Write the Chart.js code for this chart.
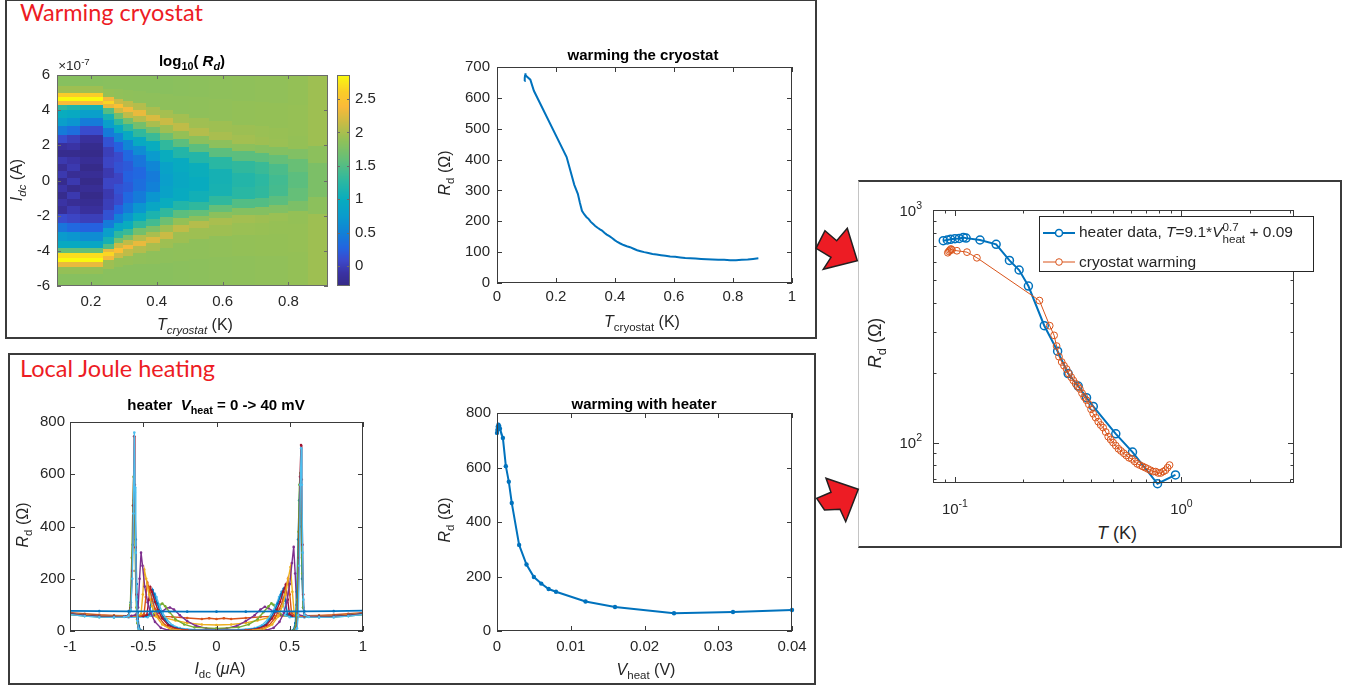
<!DOCTYPE html>
<html>
<head>
<meta charset="utf-8">
<title>Warming cryostat vs local Joule heating</title>
<script src="https://cdn.jsdelivr.net/npm/chart.js@4.4.1/dist/chart.umd.min.js"></script>
<style>
  body { margin: 0; width: 1354px; height: 689px; position: relative; overflow: hidden; background: #fff;
         font-family: "Liberation Sans", Arial, sans-serif; color: #262626; }
  canvas { position: absolute; z-index: 1; }
  .frame { position: absolute; box-sizing: border-box; border: 2px solid #3b3b3b; z-index: 0; }
  .lbl { position: absolute; z-index: 2; white-space: nowrap; line-height: 1; transform: translate(-50%, -50%); font-size: 16px; }
  .rot { transform: translate(-50%, -50%) rotate(-90deg); }
  .ttl { font-weight: bold; font-size: 15px; color: #000; }
  .red { position: absolute; z-index: 2; font-family: Lato, "Open Sans", sans-serif; font-size: 23.5px; color: #ED1C24; line-height: 1; white-space: nowrap; }
  sub, sup { font-size: 0.72em; line-height: 0; position: relative; vertical-align: baseline; }
  sub { top: 0.38em; }
  sup { top: -0.5em; }
  #legendE { position: absolute; z-index: 3; left: 1039px; top: 216px; width: 275px; height: 56px; background: #fff;
             border: 1px solid #262626; box-sizing: border-box; }
  .legtxt { position: absolute; left: 39px; transform: translateY(-50%); font-size: 15.5px; white-space: nowrap; line-height: 1; }
  .ss { display: inline-block; vertical-align: middle; font-size: 0.75em; line-height: 1.05; }
  .ss span { display: block; }
</style>
</head>
<body>

<!-- panel frames -->
<div class="frame" style="left:5px; top:-1px; width:812px; height:340px;"></div>
<div class="frame" style="left:8px; top:353px; width:808px; height:332px;"></div>
<div class="frame" style="left:858px; top:180px; width:484px; height:368px; border-left:1px solid #c4c4c4;"></div>

<div class="red" style="left:20px; top:1px;">Warming cryostat</div>
<div class="red" style="left:20px; top:357px;">Local Joule heating</div>

<!-- panel A text -->
<div class="lbl ttl" style="left:192px; top:60px;">log<sub>10</sub>( <i>R<sub>d</sub></i>)</div>
<div class="lbl" style="left:74px; top:66px; font-size:13.5px;">&times;10<sup>-7</sup></div>
<div class="lbl rot" style="left:17px; top:180px;"><i>I</i><sub><i>dc</i></sub> (A)</div>
<div class="lbl" style="left:195px; top:325px;"><i>T</i><sub><i>cryostat</i></sub> (K)</div>

<!-- panel B text -->
<div class="lbl ttl" style="left:643px; top:54px;">warming the cryostat</div>
<div class="lbl rot" style="left:445px; top:173px;"><i>R</i><sub>d</sub> (&Omega;)</div>
<div class="lbl" style="left:642px; top:322px;"><i>T</i><sub>cryostat</sub> (K)</div>

<!-- panel C text -->
<div class="lbl ttl" style="left:216px; top:404px;">heater&nbsp;&nbsp;<i>V</i><sub>heat</sub> = 0 -&gt; 40 mV</div>
<div class="lbl rot" style="left:23px; top:525px;"><i>R</i><sub>d</sub> (&Omega;)</div>
<div class="lbl" style="left:220px; top:669px;"><i>I</i><sub>dc</sub> (<i>&mu;</i>A)</div>

<!-- panel D text -->
<div class="lbl ttl" style="left:644px; top:403px;">warming with heater</div>
<div class="lbl rot" style="left:445px; top:520px;"><i>R</i><sub>d</sub> (&Omega;)</div>
<div class="lbl" style="left:646px; top:670px;"><i>V</i><sub>heat</sub> (V)</div>

<!-- panel E text -->
<div class="lbl rot" style="left:875px; top:343px; font-size:18px;"><i>R</i><sub>d</sub> (&Omega;)</div>
<div class="lbl" style="left:1117px; top:533px; font-size:18px;"><i>T</i> (K)</div>

<div id="legendE">
  <svg width="40" height="56" style="position:absolute; left:0; top:0;">
    <line x1="3" y1="16" x2="35" y2="16" stroke="#0072BD" stroke-width="2"/>
    <circle cx="19" cy="16" r="3.5" fill="#fff" stroke="#0072BD" stroke-width="1.5"/>
    <line x1="3" y1="45" x2="35" y2="45" stroke="#D95319" stroke-width="1"/>
    <circle cx="19" cy="45" r="3.3" fill="#fff" stroke="#D95319" stroke-width="1"/>
  </svg>
  <div class="legtxt" style="top:16px;">heater data, <i>T</i>=9.1*<i>V</i><span class="ss"><span>0.7</span><span>heat</span></span> + 0.09</div>
  <div class="legtxt" style="top:45px;">cryostat warming</div>
</div>

<svg width="1354" height="689" style="position:absolute; left:0; top:0; z-index:2; pointer-events:none;">
  <polygon points="825,230.7 836.7,240.7 847.3,228.3 857.3,260.7 823.3,269.3 831,257.3 816,248.3"
           fill="#ED1C24" stroke="#231F20" stroke-width="1.5"/>
  <polygon points="826,478.3 858.3,489.3 845.7,521.7 840,509.3 824.5,510 816.7,498.3 831,492.3"
           fill="#ED1C24" stroke="#231F20" stroke-width="1.5"/>
</svg>

<script>
// ========================================
// Panel A - log10(Rd) map (I in units of 1e-7 A)
// each column: [I, log10 Rd] samples, top to bottom
// ========================================
const mapTEdges = [0.097, 0.13, 0.167, 0.238, 0.273, 0.30, 0.33, 0.37, 0.41, 0.45, 0.50, 0.56, 0.63, 0.70, 0.742, 0.80, 0.86, 0.92];
const mapCol01 = [[5.6,1.82],[5.05,1.95],[4.8,2.6],[4.6,2.85],[4.4,2.4],[4.15,1.3],[3.8,1.0],[3.3,0.8],[2.8,0.45],[2.3,0.1],[1.9,-0.15],[1.5,-0.25],[1.1,-0.05],[0.7,-0.2],[0.3,-0.05],[-0.1,-0.25],[-0.5,-0.1],[-0.9,-0.25],[-1.3,-0.1],[-1.7,-0.2],[-2.2,0.1],[-2.7,0.4],[-3.2,0.75],[-3.7,0.95],[-4.05,1.6],[-4.3,2.7],[-4.55,2.85],[-4.8,2.3],[-5.1,1.9],[-5.6,1.82]];
const mapCol02 = [[5.6,1.82],[5.05,1.95],[4.8,2.6],[4.6,2.85],[4.4,2.4],[4.15,1.2],[3.8,0.95],[3.3,0.7],[2.8,0.35],[2.3,0.0],[1.9,-0.1],[1.5,-0.25],[1.1,-0.1],[0.7,-0.05],[0.3,-0.2],[-0.1,-0.05],[-0.5,-0.25],[-0.9,-0.05],[-1.3,-0.2],[-1.7,-0.05],[-2.2,0.05],[-2.7,0.3],[-3.2,0.7],[-3.7,0.95],[-4.05,1.6],[-4.3,2.7],[-4.55,2.85],[-4.8,2.3],[-5.1,1.9],[-5.6,1.82]];
const mapCol03 = [[5.6,1.82],[5.05,1.95],[4.8,2.6],[4.6,2.85],[4.4,2.4],[4.15,1.1],[3.8,0.8],[3.3,0.45],[2.8,0.1],[2.3,-0.15],[1.9,-0.25],[1.5,-0.28],[1.1,-0.2],[0.7,-0.28],[0.3,-0.2],[-0.1,-0.28],[-0.5,-0.2],[-0.9,-0.28],[-1.3,-0.22],[-1.7,-0.15],[-2.2,0.0],[-2.7,0.25],[-3.2,0.6],[-3.7,0.9],[-4.05,1.6],[-4.3,2.7],[-4.55,2.85],[-4.8,2.3],[-5.1,1.9],[-5.6,1.82]];
const mapCol04 = [[5.5,1.83],[4.85,1.9],[4.6,2.35],[4.4,2.65],[4.2,2.3],[3.95,1.5],[3.6,1.1],[3.2,0.8],[2.7,0.45],[2.2,0.15],[1.6,0.0],[1.0,0.05],[0.4,-0.05],[-0.2,0.05],[-0.8,-0.05],[-1.4,0.0],[-2.0,0.15],[-2.5,0.45],[-3.0,0.8],[-3.45,1.1],[-3.8,1.5],[-4.0,2.3],[-4.2,2.65],[-4.4,2.35],[-4.7,1.95],[-5.4,1.83]];
const mapCol05 = [[5.5,1.83],[4.8,1.88],[4.45,2.15],[4.2,2.45],[3.95,2.15],[3.65,1.7],[3.3,1.3],[2.9,0.95],[2.4,0.55],[1.9,0.25],[1.3,0.1],[0.7,0.15],[0.1,0.05],[-0.5,0.15],[-1.1,0.1],[-1.7,0.25],[-2.2,0.5],[-2.7,0.9],[-3.1,1.3],[-3.45,1.7],[-3.75,2.15],[-4.0,2.45],[-4.25,2.15],[-4.6,1.9],[-5.3,1.83]];
const mapCol06 = [[5.5,1.83],[4.7,1.87],[4.3,2.1],[4.0,2.35],[3.7,2.1],[3.35,1.7],[3.0,1.3],[2.55,0.95],[2.0,0.55],[1.4,0.3],[0.8,0.2],[0.2,0.25],[-0.4,0.2],[-1.0,0.3],[-1.6,0.45],[-2.1,0.7],[-2.6,1.0],[-3.0,1.35],[-3.3,1.75],[-3.55,2.1],[-3.8,2.35],[-4.1,2.1],[-4.5,1.9],[-5.2,1.83]];
const mapCol07 = [[5.5,1.83],[4.6,1.86],[4.15,2.05],[3.8,2.3],[3.45,2.05],[3.1,1.7],[2.7,1.3],[2.2,0.95],[1.7,0.6],[1.1,0.4],[0.4,0.3],[-0.3,0.35],[-1.0,0.45],[-1.6,0.7],[-2.1,1.0],[-2.55,1.3],[-2.95,1.7],[-3.3,2.05],[-3.6,2.3],[-3.95,2.05],[-4.4,1.88],[-5.2,1.83]];
const mapCol08 = [[5.5,1.83],[4.4,1.86],[3.9,2.0],[3.55,2.22],[3.2,2.0],[2.85,1.7],[2.45,1.35],[1.95,1.0],[1.4,0.75],[0.8,0.55],[0.2,0.45],[-0.4,0.5],[-1.0,0.7],[-1.5,0.9],[-2.0,1.15],[-2.45,1.4],[-2.8,1.75],[-3.1,2.0],[-3.4,2.22],[-3.75,2.0],[-4.3,1.87],[-5.2,1.83]];
const mapCol09 = [[5.5,1.83],[4.3,1.86],[3.7,1.98],[3.3,2.15],[2.9,1.95],[2.5,1.65],[2.0,1.3],[1.4,1.0],[0.7,0.85],[0,0.8],[-0.7,0.85],[-1.3,1.0],[-1.85,1.3],[-2.35,1.65],[-2.75,1.95],[-3.15,2.15],[-3.55,1.95],[-4.2,1.86],[-5.2,1.83]];
const mapCol10 = [[5.5,1.84],[4.1,1.86],[3.45,1.97],[3.0,2.1],[2.55,1.9],[2.1,1.55],[1.6,1.2],[0.9,0.97],[0,0.92],[-0.9,0.97],[-1.5,1.2],[-1.95,1.55],[-2.35,1.9],[-2.75,2.1],[-3.2,1.95],[-4.0,1.87],[-5.2,1.84]];
const mapCol11 = [[5.5,1.85],[3.9,1.87],[3.2,1.96],[2.75,2.05],[2.3,1.85],[1.85,1.55],[1.3,1.2],[0.6,1.02],[-0.3,0.98],[-1.0,1.07],[-1.5,1.3],[-1.9,1.6],[-2.2,1.85],[-2.5,2.05],[-2.95,1.95],[-3.8,1.87],[-5.2,1.85]];
const mapCol12 = [[5.5,1.86],[3.7,1.88],[3.0,1.95],[2.5,2.0],[2.05,1.85],[1.6,1.55],[1.0,1.25],[0.2,1.1],[-0.6,1.12],[-1.2,1.3],[-1.65,1.6],[-2.0,1.85],[-2.3,2.0],[-2.8,1.95],[-3.6,1.88],[-5.2,1.86]];
const mapCol13 = [[5.5,1.87],[3.5,1.89],[2.8,1.94],[2.3,1.97],[1.85,1.85],[1.4,1.55],[0.8,1.3],[0,1.2],[-0.8,1.25],[-1.35,1.5],[-1.8,1.8],[-2.2,1.97],[-2.7,1.93],[-3.5,1.89],[-5.2,1.87]];
const mapCol14 = [[5.5,1.88],[3.4,1.9],[2.7,1.93],[2.2,1.95],[1.75,1.82],[1.3,1.55],[0.7,1.35],[0,1.27],[-0.7,1.3],[-1.3,1.5],[-1.75,1.8],[-2.2,1.95],[-2.7,1.92],[-3.5,1.9],[-5.2,1.88]];
const mapCol15 = [[5.5,1.88],[3.3,1.9],[2.6,1.92],[2.1,1.93],[1.65,1.8],[1.2,1.6],[0.6,1.45],[0,1.4],[-0.6,1.42],[-1.2,1.55],[-1.65,1.78],[-2.1,1.93],[-2.6,1.91],[-3.5,1.9],[-5.2,1.88]];
const mapCol16 = [[5.5,1.9],[3.0,1.91],[2.0,1.9],[1.5,1.78],[0.9,1.62],[0,1.55],[-0.9,1.6],[-1.5,1.75],[-2.0,1.9],[-3.0,1.91],[-5.2,1.9]];
const mapCol17 = [[5.5,1.95],[2.5,1.95],[1.4,1.85],[0.5,1.75],[-0.5,1.75],[-1.4,1.85],[-2.5,1.95],[-5.2,1.95]];
const mapColumns = [mapCol01, mapCol02, mapCol03, mapCol04, mapCol05, mapCol06, mapCol07, mapCol08, mapCol09,
                    mapCol10, mapCol11, mapCol12, mapCol13, mapCol14, mapCol15, mapCol16, mapCol17];
const mapTicksT = [0.2, 0.4, 0.6, 0.8];
const mapTicksI = [-6, -4, -2, 0, 2, 4, 6];
const cbarMin = -0.3, cbarMax = 2.86;
const cbarTicks = [0, 0.5, 1, 1.5, 2, 2.5];

// ========================================
// Panel B (and orange curve of panel E) - cryostat warming
// ========================================
const cryoT = [0.093, 0.094, 0.095, 0.096, 0.097, 0.102, 0.113, 0.125, 0.236, 0.262, 0.274, 0.281, 0.288, 0.296, 0.303, 0.311, 0.318, 0.326, 0.333, 0.341, 0.349, 0.356, 0.364, 0.372, 0.381, 0.390, 0.399, 0.408, 0.418, 0.429, 0.440, 0.451, 0.463, 0.475, 0.487, 0.499, 0.513, 0.527, 0.541, 0.556, 0.571, 0.587, 0.604, 0.621, 0.638, 0.655, 0.673, 0.692, 0.711, 0.730, 0.750, 0.770, 0.790, 0.810, 0.830, 0.850, 0.868, 0.886];
const cryoR = [655, 664, 672, 680, 674, 668, 659, 623, 408, 318, 289, 260, 234, 222, 214, 207, 198, 191, 185, 179, 174, 170, 163, 157, 152, 146, 139, 133, 128, 123, 119, 116, 111, 106, 103, 100, 97, 94, 92, 90, 88, 86, 85, 83, 81, 80, 79, 78, 77, 76, 75, 75, 74, 74, 75, 76, 78, 80];
const ticksB_T = [0, 0.2, 0.4, 0.6, 0.8, 1];
const ticksB_R = [0, 100, 200, 300, 400, 500, 600, 700];

// ========================================
// Panel C - Rd(Idc) sweeps for Vheat = 0 -> 40 mV  ([I (uA), Rd])
// ========================================
const sweep01 = [[-1,63],[-0.9,57],[-0.8,53],[-0.7,52],[-0.63,54],[-0.6,58],[-0.585,80],[-0.575,200],[-0.567,450],[-0.561,760],[-0.556,550],[-0.551,300],[-0.546,120],[-0.54,40],[-0.533,10],[-0.525,2],[-0.5,0],[-0.3,0],[0,0],[0.3,0],[0.5,0],[0.54,2],[0.55,10],[0.558,60],[0.565,250],[0.572,560],[0.578,700],[0.583,560],[0.588,300],[0.593,120],[0.6,62],[0.63,54],[0.7,52],[0.8,53],[0.9,57],[1,63]];
const sweep02 = [[-1,65],[-0.9,59],[-0.8,55],[-0.7,54],[-0.63,56],[-0.6,60],[-0.585,90],[-0.575,230],[-0.568,480],[-0.562,745],[-0.557,560],[-0.552,320],[-0.547,140],[-0.541,45],[-0.534,12],[-0.525,2],[-0.5,0],[0,0],[0.5,0],[0.538,2],[0.548,12],[0.556,70],[0.563,280],[0.57,590],[0.577,712],[0.582,580],[0.587,330],[0.592,140],[0.598,65],[0.63,56],[0.7,54],[0.8,55],[0.9,59],[1,65]];
const sweep03 = [[-1,64],[-0.9,58],[-0.8,54],[-0.7,53],[-0.63,55],[-0.6,60],[-0.588,100],[-0.578,280],[-0.571,480],[-0.566,590],[-0.559,430],[-0.553,230],[-0.547,90],[-0.54,30],[-0.532,8],[-0.52,1],[-0.5,0],[0,0],[0.5,0],[0.53,3],[0.542,20],[0.552,120],[0.56,380],[0.566,560],[0.572,605],[0.578,450],[0.585,220],[0.592,90],[0.6,60],[0.63,55],[0.7,53],[0.8,54],[0.9,58],[1,64]];
const sweep04 = [[-1,66],[-0.9,60],[-0.8,56],[-0.7,55],[-0.63,56],[-0.6,60],[-0.585,110],[-0.572,330],[-0.564,500],[-0.558,530],[-0.551,350],[-0.545,180],[-0.538,70],[-0.53,20],[-0.52,4],[-0.5,0],[0,0],[0.5,0],[0.525,4],[0.538,30],[0.548,150],[0.557,350],[0.564,500],[0.57,560],[0.577,400],[0.584,200],[0.591,90],[0.6,62],[0.63,56],[0.7,55],[0.8,56],[0.9,60],[1,66]];
const sweep05 = [[-1,66],[-0.9,60],[-0.8,56],[-0.7,55],[-0.62,56],[-0.58,58],[-0.55,62],[-0.535,90],[-0.525,200],[-0.515,300],[-0.505,250],[-0.49,170],[-0.47,110],[-0.45,70],[-0.42,35],[-0.38,12],[-0.33,3],[-0.25,0],[0,0],[0.25,0],[0.34,3],[0.39,12],[0.43,35],[0.46,70],[0.48,110],[0.5,180],[0.515,260],[0.527,322],[0.537,220],[0.547,100],[0.56,62],[0.6,57],[0.7,55],[0.8,56],[0.9,60],[1,66]];
const sweep06 = [[-1,67],[-0.9,61],[-0.8,57],[-0.7,56],[-0.6,57],[-0.54,58],[-0.515,65],[-0.503,140],[-0.493,235],[-0.48,200],[-0.46,140],[-0.44,95],[-0.41,55],[-0.37,25],[-0.32,8],[-0.25,2],[0,0],[0.25,2],[0.33,8],[0.38,25],[0.42,55],[0.45,95],[0.47,140],[0.49,200],[0.505,245],[0.518,150],[0.53,70],[0.55,58],[0.6,57],[0.7,56],[0.8,57],[0.9,61],[1,67]];
const sweep07 = [[-1,68],[-0.9,62],[-0.8,58],[-0.7,57],[-0.6,57],[-0.52,58],[-0.495,64],[-0.482,130],[-0.472,185],[-0.46,165],[-0.44,120],[-0.42,85],[-0.39,50],[-0.35,22],[-0.3,8],[-0.2,2],[0,1],[0.2,2],[0.31,8],[0.36,22],[0.4,50],[0.43,85],[0.455,120],[0.475,165],[0.488,200],[0.5,140],[0.512,70],[0.53,59],[0.6,57],[0.7,57],[0.8,58],[0.9,62],[1,68]];
const sweep08 = [[-1,67],[-0.9,61],[-0.8,57],[-0.7,56],[-0.6,56],[-0.5,57],[-0.475,62],[-0.462,120],[-0.452,168],[-0.44,150],[-0.42,112],[-0.4,80],[-0.37,48],[-0.33,22],[-0.28,9],[-0.2,3],[0,2],[0.2,3],[0.29,9],[0.34,22],[0.38,48],[0.41,80],[0.435,112],[0.455,150],[0.473,178],[0.486,120],[0.498,65],[0.52,58],[0.6,56],[0.7,56],[0.8,57],[0.9,61],[1,67]];
const sweep09 = [[-1,68],[-0.9,62],[-0.8,58],[-0.7,57],[-0.6,57],[-0.48,58],[-0.458,64],[-0.446,115],[-0.436,157],[-0.425,140],[-0.405,105],[-0.385,75],[-0.355,45],[-0.32,22],[-0.27,10],[-0.2,4],[0,3],[0.2,4],[0.28,10],[0.33,22],[0.365,45],[0.395,75],[0.418,105],[0.44,140],[0.458,162],[0.471,115],[0.484,64],[0.51,58],[0.6,57],[0.7,57],[0.8,58],[0.9,62],[1,68]];
const sweep10 = [[-1,63],[-0.9,57],[-0.8,53],[-0.7,52],[-0.6,52],[-0.47,53],[-0.442,60],[-0.43,105],[-0.42,142],[-0.41,130],[-0.39,98],[-0.37,72],[-0.34,44],[-0.3,22],[-0.25,11],[-0.15,5],[0,4],[0.15,5],[0.26,11],[0.31,22],[0.35,44],[0.38,72],[0.405,98],[0.427,130],[0.443,150],[0.456,105],[0.47,60],[0.5,53],[0.6,52],[0.7,52],[0.8,53],[0.9,57],[1,63]];
const sweep11 = [[-1,64],[-0.9,59],[-0.8,56],[-0.7,55],[-0.6,55],[-0.5,56],[-0.44,60],[-0.41,78],[-0.385,100],[-0.37,105],[-0.35,95],[-0.32,72],[-0.28,45],[-0.22,25],[-0.15,14],[0,10],[0.15,14],[0.22,25],[0.28,45],[0.32,72],[0.355,95],[0.375,106],[0.39,100],[0.415,78],[0.45,60],[0.5,56],[0.6,55],[0.7,55],[0.8,56],[0.9,59],[1,64]];
const sweep12 = [[-1,65],[-0.9,60],[-0.8,57],[-0.7,56],[-0.6,56],[-0.5,57],[-0.42,62],[-0.37,75],[-0.34,87],[-0.318,90],[-0.29,82],[-0.25,60],[-0.2,38],[-0.14,20],[-0.07,10],[0,8],[0.07,10],[0.14,20],[0.2,38],[0.26,60],[0.3,82],[0.33,93],[0.355,87],[0.39,75],[0.44,62],[0.5,57],[0.6,56],[0.7,56],[0.8,57],[0.9,60],[1,65]];
const sweep13 = [[-1,62],[-0.9,58],[-0.8,56],[-0.7,57],[-0.6,58],[-0.5,60],[-0.42,58],[-0.35,50],[-0.28,40],[-0.2,31],[-0.1,25],[0,23],[0.1,25],[0.2,31],[0.28,40],[0.35,50],[0.42,58],[0.5,60],[0.6,58],[0.7,57],[0.8,56],[0.9,58],[1,62]];
const sweep14 = [[-1,70],[-0.9,66],[-0.8,62],[-0.7,60],[-0.6,59],[-0.5,58],[-0.4,57],[-0.3,54],[-0.2,50],[-0.1,46],[-0.05,49],[0,46],[0.05,49],[0.1,46],[0.2,50],[0.3,54],[0.4,57],[0.5,58],[0.6,59],[0.7,60],[0.8,62],[0.9,66],[1,70]];
const sweep15 = [[-1,77],[-0.8,76],[-0.6,75],[-0.4,75],[-0.2,74],[0,74],[0.2,74],[0.4,75],[0.6,75],[0.8,76],[1,78]];
const sweepsC = [sweep15, sweep01, sweep02, sweep03, sweep04, sweep05, sweep06, sweep07, sweep08, sweep09, sweep10, sweep11, sweep12, sweep13, sweep14];
const sweepColors = ['#0072BD', '#4DBEEE', '#A2142F', '#77AC30', '#0072BD', '#7E2F8E', '#EDB120', '#D95319',
                     '#A2142F', '#0072BD', '#4DBEEE', '#77AC30', '#7E2F8E', '#EDB120', '#D95319'];
const ticksC_I = [-1, -0.5, 0, 0.5, 1];
const ticksC_R = [0, 200, 400, 600, 800];

// ========================================
// Panel D - warming with heater
// ========================================
const heatV = [0, 0.00005, 0.0001, 0.0002, 0.0003, 0.0004, 0.0008, 0.0012, 0.0016, 0.002, 0.003, 0.004, 0.005, 0.006, 0.007, 0.008, 0.012, 0.016, 0.024, 0.032, 0.04];
const heatRd = [727, 738, 750, 757, 752, 742, 708, 605, 548, 470, 316, 244, 198, 174, 154, 144, 108, 88, 65, 70, 77];
const ticksD_V = [0, 0.01, 0.02, 0.03, 0.04];
const ticksD_R = [0, 200, 400, 600, 800];

// ========================================
// Panel E - log-log comparison (heater data mapped to T)
// ========================================
const heatT = [0.0888, 0.0925, 0.0957, 0.1, 0.1045, 0.1089, 0.112, 0.129, 0.152, 0.174, 0.192, 0.211, 0.248, 0.284, 0.316, 0.350, 0.381, 0.408, 0.513, 0.608, 0.784, 0.941];
const heatRlog = [738, 743, 748, 753, 755, 762, 757, 743, 712, 607, 552, 471, 318, 247, 198, 175, 156, 143, 109, 91, 66.5, 72.6];
const ticksE_T = [0.08, 0.09, 0.1, 0.2, 0.3, 0.4, 0.5, 0.6, 0.7, 0.8, 0.9, 1, 2, 3];
const ticksE_R = [70, 80, 90, 100, 200, 300, 400, 500, 600, 700, 800, 900, 1000];
const labelsE_T = [0.1, 1];
const labelsE_R = [100, 1000];

// ========================================
// Helpers
// ========================================
const tickFont = { family: 'Liberation Sans', size: 15 };
const axisColor = '#262626';

const parulaStops = [
  [0.00, 53, 42, 135], [0.06, 58, 50, 162], [0.12, 60, 72, 202], [0.18, 35, 100, 225], [0.25, 18, 128, 215],
  [0.33, 10, 155, 205], [0.41, 8, 172, 190], [0.50, 45, 184, 160], [0.60, 100, 191, 120],
  [0.70, 150, 192, 85], [0.78, 205, 187, 68], [0.85, 250, 186, 57], [0.92, 250, 205, 40],
  [1.00, 249, 251, 14]
];

function parula(v) {
  let f = (v - cbarMin) / (cbarMax - cbarMin);
  f = Math.max(0, Math.min(1, f));
  for (let i = 1; i < parulaStops.length; i++) {
    const a = parulaStops[i - 1], b = parulaStops[i];
    if (f <= b[0]) {
      const t = (f - a[0]) / (b[0] - a[0]);
      const c = [1, 2, 3].map(k => Math.round(a[k] + (b[k] - a[k]) * t));
      return `rgb(${c[0]},${c[1]},${c[2]})`;
    }
  }
  return 'rgb(249,251,14)';
}

const pairs = arr => arr.map(([x, y]) => ({ x, y }));
const zip = (xs, ys) => xs.map((x, i) => ({ x, y: ys[i] }));

function axis(type, min, max, ticks, size, pad, extra) {
  return Object.assign({
    type, min, max,
    afterBuildTicks: s => { s.ticks = ticks.map(v => ({ value: v })); },
    afterFit: s => { if (s.isHorizontal()) s.height = size; else s.width = size; },
    grid: { display: false, drawTicks: false },
    border: { display: false },
    ticks: { font: tickFont, color: axisColor, padding: pad, maxRotation: 0, autoSkip: false, callback: v => String(v) }
  }, extra || {});
}

function options(padding, scales, plugins) {
  return {
    responsive: false, animation: false, devicePixelRatio: 1, events: [],
    layout: { padding },
    scales,
    plugins: Object.assign({ legend: { display: false }, tooltip: { enabled: false } }, plugins || {})
  };
}

// area = plot rectangle on the page [x0, y0, x1, y1]; m = margins around it
function makeChart(area, m, config) {
  const cv = document.createElement('canvas');
  cv.width = area[2] - area[0] + m.l + m.r;
  cv.height = area[3] - area[1] + m.t + m.b;
  cv.style.left = (area[0] - m.l) + 'px';
  cv.style.top = (area[1] - m.t) + 'px';
  document.body.appendChild(cv);
  return new Chart(cv, config);
}

// MATLAB-style box with inward ticks on all four sides
const axesBox = {
  id: 'axesBox',
  afterDatasetsDraw(chart, args, opts) {
    const { ctx, chartArea: a } = chart;
    const len = opts.len || 5, minor = opts.minorLen || 3;
    ctx.save();
    ctx.strokeStyle = opts.color || '#3a3a3a';
    ctx.lineWidth = 1;
    ctx.strokeRect(a.left + 0.5, a.top + 0.5, a.width - 1, a.height - 1);
    ctx.beginPath();
    Object.values(chart.scales).forEach(s => {
      if (s.options.display === false) return;
      const log = s.type === 'logarithmic';
      s.ticks.forEach(t => {
        const major = !log || Math.abs(Math.log10(t.value) - Math.round(Math.log10(t.value))) < 1e-9;
        const l = major ? len : minor;
        const p = Math.round(s.getPixelForValue(t.value)) + 0.5;
        if (s.isHorizontal()) {
          ctx.moveTo(p, a.bottom); ctx.lineTo(p, a.bottom - l);
          ctx.moveTo(p, a.top); ctx.lineTo(p, a.top + l);
        } else {
          ctx.moveTo(a.left, p); ctx.lineTo(a.left + l, p);
          ctx.moveTo(a.right, p); ctx.lineTo(a.right - l, p);
        }
      });
    });
    ctx.stroke();
    ctx.restore();
  }
};
Chart.register(axesBox);

// colour map cells, placed through the chart scales
const heatmapCells = {
  id: 'heatmapCells',
  beforeDatasetsDraw(chart) {
    const { ctx, chartArea: a, scales: { x, y } } = chart;
    ctx.save();
    ctx.beginPath();
    ctx.rect(a.left, a.top, a.width, a.height);
    ctx.clip();
    mapColumns.forEach((col, c) => {
      const x0 = Math.floor(x.getPixelForValue(mapTEdges[c]));
      const x1 = Math.ceil(x.getPixelForValue(mapTEdges[c + 1]));
      col.forEach((s, i) => {
        const hi = i === 0 ? 6 : (col[i - 1][0] + s[0]) / 2;
        const lo = i === col.length - 1 ? -6 : (s[0] + col[i + 1][0]) / 2;
        const y0 = Math.floor(y.getPixelForValue(hi));
        const y1 = Math.ceil(y.getPixelForValue(lo));
        ctx.fillStyle = parula(s[1]);
        ctx.fillRect(x0, y0, x1 - x0 + 1, y1 - y0 + 1);
      });
    });
    ctx.restore();
  }
};

const colorbarFill = {
  id: 'colorbarFill',
  beforeDatasetsDraw(chart) {
    const { ctx, chartArea: a, scales: { y } } = chart;
    ctx.save();
    for (let py = Math.floor(a.top); py < a.bottom; py++) {
      ctx.fillStyle = parula(y.getValueForPixel(py + 0.5));
      ctx.fillRect(a.left, py, a.width, 1);
    }
    ctx.restore();
  }
};

// 10^n labels for the log-log panel
const powerLabels = {
  id: 'powerLabels',
  afterDraw(chart) {
    const { ctx, chartArea: a, scales: { x, y } } = chart;
    ctx.save();
    ctx.fillStyle = axisColor;
    ctx.textBaseline = 'alphabetic';
    ctx.textAlign = 'left';
    const big = '15px "Liberation Sans"', small = '10.5px "Liberation Sans"';
    const draw = (v, px, py, align) => {
      const e = String(Math.round(Math.log10(v)));
      ctx.font = big; const wb = ctx.measureText('10').width;
      ctx.font = small; const we = ctx.measureText(e).width;
      const x0 = align === 'center' ? px - (wb + we) / 2 : px - wb - we;
      ctx.font = big; ctx.fillText('10', x0, py);
      ctx.font = small; ctx.fillText(e, x0 + wb, py - 7);
    };
    labelsE_T.forEach(v => draw(v, x.getPixelForValue(v), a.bottom + 31, 'center'));
    labelsE_R.forEach(v => draw(v, a.left - 11, y.getPixelForValue(v) + 5.5, 'right'));
    ctx.restore();
  }
};

const M = { l: 50, t: 20, r: 30, b: 35 };
const pad = { left: 0, top: M.t, right: M.r, bottom: 0 };

// ========================================
// Panel A - colour map + colour bar
// ========================================
makeChart([57, 75, 328, 286], M, {
  type: 'scatter',
  data: { datasets: [] },
  options: options(pad, {
    x: axis('linear', 0.097, 0.92, mapTicksT, M.b, 7),
    y: axis('linear', -6, 6, mapTicksI, M.l, 7)
  }, { axesBox: { len: 4, color: '#6a6a6a' } }),
  plugins: [heatmapCells]
});

makeChart([337, 75, 350, 286], { l: 0, t: 20, r: 35, b: 20 }, {
  type: 'scatter',
  data: { datasets: [] },
  options: options({ left: 0, top: 20, right: 0, bottom: 20 }, {
    x: { display: false, min: 0, max: 1 },
    y: axis('linear', cbarMin, cbarMax, cbarTicks, 35, 5, { position: 'right' })
  }, { axesBox: { len: 3, color: '#6a6a6a' } }),
  plugins: [colorbarFill]
});

// ========================================
// Panel B - warming the cryostat
// ========================================
makeChart([497, 67, 792, 283], M, {
  type: 'scatter',
  data: { datasets: [{ data: zip(cryoT, cryoR), showLine: true, borderColor: '#0072BD', borderWidth: 2, pointRadius: 0 }] },
  options: options(pad, {
    x: axis('linear', 0, 1, ticksB_T, M.b, 5),
    y: axis('linear', 0, 700, ticksB_R, M.l, 7)
  }, { axesBox: { len: 5 } })
});

// ========================================
// Panel C - Rd vs Idc sweeps
// ========================================
makeChart([70, 422, 363, 631], M, {
  type: 'scatter',
  data: {
    datasets: sweepsC.map((s, i) => ({
      data: pairs(s), showLine: true, borderColor: sweepColors[i], backgroundColor: sweepColors[i],
      borderWidth: i === 0 ? 1.8 : 1.4, pointRadius: 1.3, pointBorderWidth: 0
    }))
  },
  options: options(pad, {
    x: axis('linear', -1, 1, ticksC_I, M.b, 7),
    y: axis('linear', 0, 800, ticksC_R, M.l, 5)
  }, { axesBox: { len: 5 } })
});

// ========================================
// Panel D - warming with heater
// ========================================
makeChart([497, 413, 792, 631], M, {
  type: 'scatter',
  data: {
    datasets: [{
      data: zip(heatV, heatRd), showLine: true, borderColor: '#0072BD', backgroundColor: '#0072BD',
      borderWidth: 2, pointRadius: 2.2, pointBorderWidth: 0, clip: false
    }]
  },
  options: options(pad, {
    x: axis('linear', 0, 0.04, ticksD_V, M.b, 7),
    y: axis('linear', 0, 800, ticksD_R, M.l, 6)
  }, { axesBox: { len: 5 } })
});

// ========================================
// Panel E - log-log comparison
// ========================================
const logAxisOpts = { ticks: { display: false } };
makeChart([933, 210, 1294, 483], { l: 45, t: 10, r: 20, b: 40 }, {
  type: 'scatter',
  data: {
    datasets: [
      {
        data: zip(cryoT, cryoR), showLine: true, borderColor: '#D95319', borderWidth: 1, clip: false,
        pointRadius: 3.4, pointBorderWidth: 1, pointBorderColor: '#D95319', pointBackgroundColor: 'rgba(0,0,0,0)'
      },
      {
        data: zip(heatT, heatRlog), showLine: true, borderColor: '#0072BD', borderWidth: 2, clip: false,
        pointRadius: 4, pointBorderWidth: 1.5, pointBorderColor: '#0072BD', pointBackgroundColor: 'rgba(0,0,0,0)'
      }
    ]
  },
  options: options({ left: 0, top: 10, right: 20, bottom: 0 }, {
    x: axis('logarithmic', 0.08, 3.14, ticksE_T, 40, 0, logAxisOpts),
    y: axis('logarithmic', 67, 1000, ticksE_R, 45, 0, logAxisOpts)
  }, { axesBox: { len: 6, minorLen: 3.5 } }),
  plugins: [powerLabels]
});
</script>
</body>
</html>
